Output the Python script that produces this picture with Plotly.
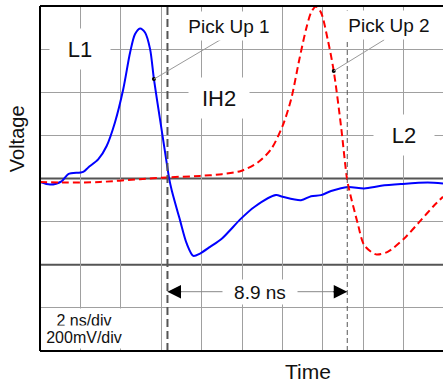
import plotly.graph_objects as go

# ---------------- data (time in ns, voltage in mV) ----------------
t_pick1 = [0.0, 0.50, 1.07, 1.40, 2.14, 2.39, 2.89, 3.30, 3.71, 4.12, 4.46, 4.70, 4.95,
           5.20, 5.45, 5.64, 5.94, 6.27, 6.40, 6.52, 6.93, 7.26, 7.59, 7.92, 8.42, 9.01,
           9.95, 10.61, 11.68, 12.01, 12.92, 13.42, 13.91, 14.41, 15.23, 16.05, 16.88,
           17.87, 19.19, 19.95]
v_pick1 = [-16, -28, -13, 20, 31, 51, 90, 151, 260, 414, 584, 669, 696,
           677, 600, 461, 275, 74, -3, -54, -193, -301, -359, -348, -317, -278,
           -186, -132, -77, -85, -101, -82, -77, -58, -39, -46, -34,
           -26, -19, -23]

t_pick2 = [0.0, 1.32, 2.97, 4.95, 6.27, 7.92, 9.01, 9.95, 10.78, 11.44, 12.01, 12.43,
           12.84, 13.17, 13.42, 13.66, 13.91, 14.24, 14.54, 14.90, 15.20, 15.31, 15.73,
           16.05, 16.63, 17.21, 18.03, 18.86, 19.52, 19.95]
v_pick2 = [-16, -19, -16, -3, 5, 12, 20, 35, 74, 136, 244, 367,
           553, 692, 770, 798, 770, 646, 499, 244, -3, -54, -209,
           -309, -352, -340, -278, -193, -124, -85]

marker_index_pick1 = 15   # point on Pick Up 1 trace where the label points
marker_index_pick2 = 18   # point on Pick Up 2 trace where the label points

t_cross1 = 6.31           # ns, Pick Up 1 zero crossing
delay_ns = 8.9            # ns
t_cross2 = t_cross1 + delay_ns
delay_level = -525        # mV, height of the delay arrow

region_labels = ["L1", "IH2", "L2"]
region_t = [2.0, 8.85, 18.0]
region_v = [600, 372, 200]

x_range = [0, 19.95]
y_range = [-800, 800]
ns_per_div = 2
light_levels = [-600, -200, 200, 400, 600]   # graticule lines (mV)
dark_levels = [0, -400]                       # emphasised lines (mV)

FONT = "Arial, 'Liberation Sans', sans-serif"

fig = go.Figure()

fig.add_trace(go.Scatter(x=t_pick1, y=v_pick1, mode="lines",
                         line=dict(color="#0000ff", width=2, shape="spline", smoothing=0.8),
                         hoverinfo="skip", showlegend=False))
fig.add_trace(go.Scatter(x=t_pick2, y=v_pick2, mode="lines",
                         line=dict(color="#ff0000", width=2, dash="7px,4px", shape="spline", smoothing=0.8),
                         hoverinfo="skip", showlegend=False))
fig.add_trace(go.Scatter(x=[t_pick1[marker_index_pick1], t_pick2[marker_index_pick2]],
                         y=[v_pick1[marker_index_pick1], v_pick2[marker_index_pick2]],
                         mode="markers", marker=dict(color="black", size=4),
                         hoverinfo="skip", showlegend=False))

shapes = []
for lv in dark_levels:
    shapes.append(dict(type="line", xref="paper", x0=0, x1=1, yref="y", y0=lv, y1=lv,
                       line=dict(color="#555555", width=2), layer="below"))
# zero crossing markers
shapes.append(dict(type="line", xref="x", x0=t_cross1, x1=t_cross1, yref="paper", y0=0, y1=1,
                   line=dict(color="#555555", width=2, dash="8px,4px"), layer="above"))
shapes.append(dict(type="line", xref="x", x0=t_cross2, x1=t_cross2, yref="paper", y0=0, y1=1,
                   line=dict(color="#555555", width=1, dash="5px,3px"), layer="above"))
# delay measurement line
shapes.append(dict(type="line", xref="x", x0=t_cross1, x1=t_cross2, yref="y", y0=delay_level, y1=delay_level,
                   line=dict(color="#888888", width=1), layer="above"))
# frame (left, top, bottom)
shapes.append(dict(type="line", xref="paper", x0=0, x1=0, yref="paper", y0=0, y1=1,
                   line=dict(color="black", width=2), layer="above"))
shapes.append(dict(type="line", xref="paper", x0=0, x1=1, yref="paper", y0=1, y1=1,
                   line=dict(color="black", width=2), layer="above"))
shapes.append(dict(type="line", xref="paper", x0=0, x1=1, yref="paper", y0=0, y1=0,
                   line=dict(color="black", width=2), layer="above"))

ann = []
for lab, tx, vy in zip(region_labels, region_t, region_v):
    ann.append(dict(x=tx, y=vy, xref="x", yref="y", text=lab, showarrow=False,
                    font=dict(size=22, color="#111111", family=FONT),
                    bgcolor="white", width=58, height=38))

# Pick Up labels with leader lines
ann.append(dict(x=t_pick1[marker_index_pick1], y=v_pick1[marker_index_pick1], xref="x", yref="y",
                text="", showarrow=True, arrowhead=0, arrowwidth=1, arrowcolor="#999999",
                ax=71, ay=-42, axref="pixel", ayref="pixel"))
ann.append(dict(x=t_pick2[marker_index_pick2], y=v_pick2[marker_index_pick2], xref="x", yref="y",
                text="", showarrow=True, arrowhead=0, arrowwidth=1, arrowcolor="#999999",
                ax=52, ay=-32, axref="pixel", ayref="pixel"))
ann.append(dict(x=9.37, y=706, xref="x", yref="y", text="Pick Up 1", showarrow=False,
                font=dict(size=19, color="#111111", family=FONT), bgcolor="white", width=98, height=26))
ann.append(dict(x=17.26, y=711, xref="x", yref="y", text="Pick Up 2", showarrow=False,
                font=dict(size=19, color="#111111", family=FONT), bgcolor="white", width=98, height=26))

# delay arrowheads and label
ann.append(dict(x=t_cross1, y=delay_level, xref="x", yref="y", ax=t_cross1 + 0.75, ay=delay_level,
                axref="x", ayref="y", text="", showarrow=True, arrowhead=2, arrowsize=1.8,
                arrowwidth=1.5, arrowcolor="black"))
ann.append(dict(x=t_cross2, y=delay_level, xref="x", yref="y", ax=t_cross2 - 0.75, ay=delay_level,
                axref="x", ayref="y", text="", showarrow=True, arrowhead=2, arrowsize=1.8,
                arrowwidth=1.5, arrowcolor="black"))
ann.append(dict(x=10.9, y=delay_level, xref="x", yref="y", text="8.9 ns", showarrow=False,
                font=dict(size=19, color="#111111", family=FONT), bgcolor="white", width=72, height=22))

# scale info
ann.append(dict(x=2.2, y=-657, xref="x", yref="y", text="2 ns/div", showarrow=False,
                font=dict(size=16, color="#111111", family=FONT), bgcolor="white", width=82, height=20))
ann.append(dict(x=2.2, y=-735, xref="x", yref="y", text="200mV/div", showarrow=False,
                font=dict(size=16, color="#111111", family=FONT), bgcolor="white", width=82, height=20))

# axis titles
ann.append(dict(x=-0.057, y=0.614, xref="paper", yref="paper", text="Voltage", textangle=-90,
                xanchor="center", yanchor="middle",
                showarrow=False, font=dict(size=20, color="#111111", family=FONT)))
ann.append(dict(x=0.664, y=-0.058, xref="paper", yref="paper", text="Time",
                xanchor="center", yanchor="middle",
                showarrow=False, font=dict(size=21, color="#111111", family=FONT)))

fig.update_layout(
    width=443, height=383,
    margin=dict(l=40, r=0, t=6, b=32),
    paper_bgcolor="white", plot_bgcolor="white",
    shapes=shapes, annotations=ann,
    xaxis=dict(range=x_range, dtick=ns_per_div, tick0=0, showgrid=True, gridcolor="#a0a0a0",
               gridwidth=1.3, zeroline=False, showticklabels=False, ticks="", showline=False,
               fixedrange=True),
    yaxis=dict(range=y_range, tickmode="array", tickvals=light_levels, showgrid=True,
               gridcolor="#a0a0a0", gridwidth=1.3, zeroline=False, showticklabels=False,
               ticks="", showline=False, fixedrange=True),
    font=dict(family=FONT),
)

fig.write_html("out.html", config={"displayModeBar": False},
               post_script="document.body.style.margin='0';document.body.style.overflow='hidden';")
